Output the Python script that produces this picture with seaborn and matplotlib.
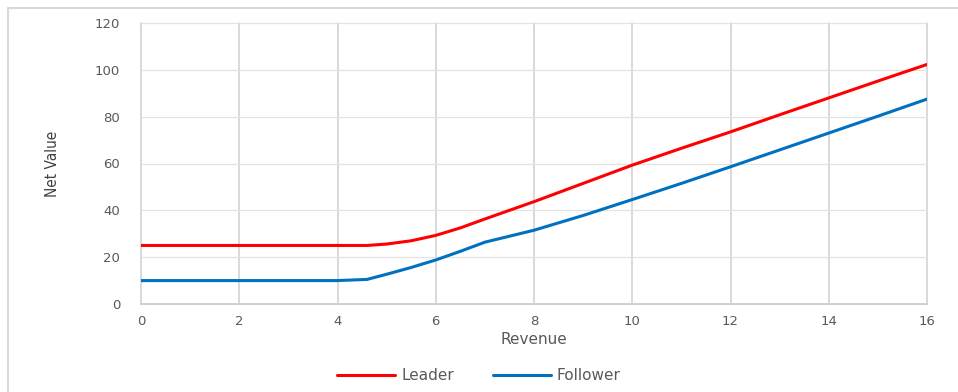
import matplotlib

matplotlib.use("Agg")
import matplotlib.pyplot as plt
import numpy as np
import pandas as pd
import seaborn as sns
from matplotlib.patches import Rectangle

# values
revenue = [0, 1, 2, 3, 4, 4.6, 5.0, 5.5, 6.0, 6.5, 7.0, 8, 9, 10, 11, 12, 13, 14, 15, 16]
leader = [25, 25, 25, 25, 25, 25, 25.6, 27, 29.3, 32.5, 36.3, 43.7, 51.5, 59.3, 66.5, 73.5, 80.8, 88, 95.2, 102.3]
follower = [10, 10, 10, 10, 10, 10.5, 12.7, 15.6, 18.8, 22.5, 26.4, 31.5, 37.8, 44.6, 51.5, 58.6, 65.8, 73, 80.2, 87.5]

x_ticks = list(range(0, 17, 2))
y_ticks = list(range(0, 121, 20))

df = pd.DataFrame({"Revenue": revenue, "Leader": leader, "Follower": follower})
long_df = df.melt(id_vars="Revenue", var_name="series", value_name="Net Value")

sns.set_theme(style="white")
plt.rcParams["font.family"] = ["DejaVu Sans"]

fig = plt.figure(figsize=(9.58, 3.92), dpi=100)
ax = fig.add_axes([141 / 958, 1 - 304 / 392, 786 / 958, 281 / 392])

sns.lineplot(
    data=long_df, x="Revenue", y="Net Value", hue="series",
    palette={"Leader": "#ff0000", "Follower": "#0070c0"},
    linewidth=2.2, ax=ax, legend=True, zorder=3,
)

ax.set_xlim(0, 16)
ax.set_ylim(0, 120)
ax.set_xticks(x_ticks)
ax.set_yticks(y_ticks)
ax.tick_params(axis="both", length=0, colors="#595959", labelsize=9.5)
ax.tick_params(axis="x", pad=8)
ax.tick_params(axis="y", pad=15)

for x in x_ticks:
    ax.axvline(x, color="#d9d9d9", lw=1.4, zorder=0, clip_on=False)
for y in y_ticks:
    ax.axhline(y, color="#e3e3e3", lw=0.9, zorder=0, clip_on=False)
for s in ax.spines.values():
    s.set_visible(False)
ax.axhline(0, color="#d0d0d0", lw=1.4, zorder=0.5, clip_on=False)

ax.set_xlabel("Revenue", fontsize=11, color="#595959", labelpad=3)
ax.set_ylabel("Net Value", fontsize=11, color="#404040",
              family="DejaVu Sans", fontstretch="condensed")
ax.yaxis.set_label_coords((60 - 141) / 786, 0.5)

handles, labels = ax.get_legend_handles_labels()
ax.legend(handles, labels, loc="center", bbox_to_anchor=(0.5, 1 - 376 / 392),
          bbox_transform=fig.transFigure, ncol=2, frameon=False,
          fontsize=11, labelcolor="#595959", handlelength=3.8,
          columnspacing=2.5, handletextpad=0.4)

fig.patches.append(Rectangle((8 / 958, -0.1), 1.2, (392 - 8) / 392 + 0.1,
                             transform=fig.transFigure, fill=False,
                             edgecolor="#d9d9d9", lw=1.5))

fig.savefig("out.png", dpi=100)
plt.close(fig)
